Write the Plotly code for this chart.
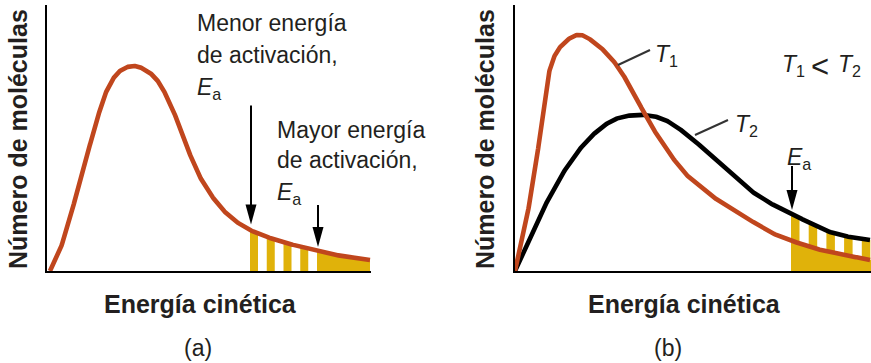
import numpy as np
import plotly.graph_objects as go

# ---------------- data ----------------
# Panel (a): one distribution, two activation energies
a_energy = [3, 13, 26, 36, 46, 56, 66, 76, 88, 100, 110, 120, 130, 140, 153, 170, 186, 203, 223, 243, 263, 283, 303, 323]
a_count = [0, 21, 64, 104, 136, 171, 192, 202, 205, 200, 191, 174, 151, 124, 94, 68, 52, 41, 33, 27, 22, 17, 14, 11]
a_ea_low = 203
a_ea_high = 270

# Panel (b): two temperatures, one activation energy
b_t1_energy = [0, 10, 20, 27, 33, 43, 62, 80, 100, 117, 133, 150, 167, 175, 195, 215, 235, 255, 275, 295, 315, 335, 355]
b_t1_count = [0, 44, 101, 151, 194, 221, 236, 228, 208, 181, 151, 124, 101, 93, 76, 64, 51, 39, 31, 24, 19, 15, 11]
b_t2_energy = [0, 17, 33, 50, 70, 90, 107, 130, 150, 170, 190, 215, 235, 255, 275, 295, 315, 335, 355]
b_t2_count = [0, 38, 71, 101, 128, 146, 154, 156, 151, 138, 121, 98, 81, 68, 58, 48, 39, 34, 31]
b_ea = 276

# ---------------- style ----------------
W, H = 871, 363
ORANGE = "#C0461D"
YELLOW = "#E0B20A"
BLACK = "#000000"
TXT = "#231F20"
FONT = "Liberation Sans, Arial, Helvetica, sans-serif"
FS = 23
FS_TITLE = 25


def smooth(xs, ys, n=24):
    pts = np.column_stack([xs, ys]).astype(float)
    P = np.vstack([pts[0] * 2 - pts[1], pts, pts[-1] * 2 - pts[-2]])
    t = np.linspace(0, 1, n, endpoint=False)[:, None]
    out = []
    for i in range(1, len(P) - 2):
        p0, p1, p2, p3 = P[i - 1], P[i], P[i + 1], P[i + 2]
        seg = 0.5 * ((2 * p1) + (-p0 + p2) * t + (2 * p0 - 5 * p1 + 4 * p2 - p3) * t ** 2
                     + (-p0 + 3 * p1 - 3 * p2 + p3) * t ** 3)
        out.append(seg)
    out.append(pts[-1:])
    arr = np.vstack(out)
    return arr[:, 0], arr[:, 1]


def region(cx, cy, x0, x1):
    m = (cx > x0) & (cx < x1)
    xs = np.concatenate([[x0, x0], cx[m], [x1, x1]])
    ys = np.concatenate([[0, np.interp(x0, cx, cy)], cy[m], [np.interp(x1, cx, cy), 0]])
    return list(xs), list(ys)


def stripes(cx, cy, start, end, period, width):
    X, Y = [], []
    s = start
    while s < end - 0.5:
        xs, ys = region(cx, cy, s, min(s + width, end))
        X += xs + [None]
        Y += ys + [None]
        s += period
    return X, Y


fig = go.Figure()

# ---- panel (a) ----
ax_, ay_ = smooth(a_energy, a_count)
sx, sy = stripes(ax_, ay_, a_ea_low, a_ea_high - 1, (a_ea_high - a_ea_low) / 4, 8)
fig.add_trace(go.Scatter(x=sx, y=sy, fill="toself", fillcolor=YELLOW, mode="none",
                         xaxis="x", yaxis="y", hoverinfo="skip"))
rx, ry = region(ax_, ay_, a_ea_high, a_energy[-1])
fig.add_trace(go.Scatter(x=rx, y=ry, fill="toself", fillcolor=YELLOW, mode="none",
                         xaxis="x", yaxis="y", hoverinfo="skip"))
fig.add_trace(go.Scatter(x=ax_, y=ay_, mode="lines", line=dict(color=ORANGE, width=4.6),
                         xaxis="x", yaxis="y", hoverinfo="skip"))

# ---- panel (b) ----
t1x, t1y = smooth(b_t1_energy, b_t1_count)
t2x, t2y = smooth(b_t2_energy, b_t2_count)
sx, sy = stripes(t2x, t2y, b_ea, b_t2_energy[-1] + 1, 17.7, 8.5)
fig.add_trace(go.Scatter(x=sx, y=sy, fill="toself", fillcolor=YELLOW, mode="none",
                         xaxis="x2", yaxis="y2", hoverinfo="skip"))
rx, ry = region(t1x, t1y, b_ea, b_t1_energy[-1] + 1)
fig.add_trace(go.Scatter(x=rx, y=ry, fill="toself", fillcolor=YELLOW, mode="none",
                         xaxis="x2", yaxis="y2", hoverinfo="skip"))
fig.add_trace(go.Scatter(x=t2x, y=t2y, mode="lines", line=dict(color=BLACK, width=4.6),
                         xaxis="x2", yaxis="y2", hoverinfo="skip"))
fig.add_trace(go.Scatter(x=t1x, y=t1y, mode="lines", line=dict(color=ORANGE, width=4.6),
                         xaxis="x2", yaxis="y2", hoverinfo="skip"))

shapes = []


def arrow(xref, yref, x, cx, cy, length, gap=5):
    tip = float(np.interp(x, cx, cy)) + gap
    head = 20
    shapes.append(dict(type="line", xref=xref, yref=yref, x0=x, x1=x, y0=tip + head - 2,
                       y1=tip + length, line=dict(color=BLACK, width=2)))
    shapes.append(dict(type="path", xref=xref, yref=yref,
                       path=f"M{x - 5.5},{tip + head} L{x + 5.5},{tip + head} L{x},{tip} Z",
                       fillcolor=BLACK, line=dict(width=0)))


arrow("x", "y", a_ea_low + 1, ax_, ay_, 119, gap=6)
arrow("x", "y", a_ea_high + 1, ax_, ay_, 42, gap=4)
arrow("x2", "y2", b_ea + 1, t2x, t2y, 44, gap=4)

# leader lines for T1 / T2 labels
shapes.append(dict(type="line", xref="x2", yref="y2", x0=103, y0=206, x1=135, y1=221,
                   line=dict(color="#333333", width=2)))
shapes.append(dict(type="line", xref="x2", yref="y2", x0=180, y0=136, x1=213, y1=151,
                   line=dict(color="#333333", width=2)))

ann = []


def txt(text, px, baseline, size=FS, color=TXT):
    ann.append(dict(text=text, xref="paper", yref="paper", x=px / W, y=1 - (baseline - size * 0.95) / H,
                    xanchor="left", yanchor="top", showarrow=False,
                    font=dict(family=FONT, size=size, color=color)))


def ctext(text, cx, cy, size=FS, bold=False, angle=0):
    t = f"<b>{text}</b>" if bold else text
    ann.append(dict(text=t, xref="paper", yref="paper", x=cx / W, y=1 - cy / H,
                    xanchor="center", yanchor="middle", showarrow=False, textangle=angle,
                    font=dict(family=FONT, size=size, color=TXT)))


EA = "<i>E</i><sub>a</sub>"
T1 = "<i>T</i><sub>1</sub>"
T2 = "<i>T</i><sub>2</sub>"
txt("Menor energía", 195, 30)
txt("de activación,", 195, 62)
txt(EA, 195, 94)
txt("Mayor energía", 275, 137)
txt("de activación,", 275, 167)
txt(EA, 275, 199)
txt(T1, 653, 61)
txt(T2, 733, 131)
txt(T1, 780, 71)
txt("&lt;", 809, 76, size=31)
txt(T2, 836, 71)
txt(EA, 785, 164)

ctext("Número de moléculas", 18, 139, size=FS_TITLE, bold=True, angle=-90)
ctext("Número de moléculas", 485, 139, size=FS_TITLE, bold=True, angle=-90)
ctext("Energía cinética", 200, 304, size=FS_TITLE, bold=True)
ctext("Energía cinética", 684, 304, size=FS_TITLE, bold=True)
ctext("(a)", 198, 348)
ctext("(b)", 668, 348)

axis_common = dict(showline=True, linecolor=BLACK, linewidth=2, showticklabels=False,
                   ticks="", showgrid=False, zeroline=False, fixedrange=True)
ydom = [1 - 271 / H, 1 - 5 / H]

fig.update_layout(
    width=W, height=H, margin=dict(l=0, r=0, t=0, b=0),
    paper_bgcolor="white", plot_bgcolor="white", showlegend=False,
    xaxis=dict(domain=[47 / W, 371 / W], range=[0, 324], anchor="y", **axis_common),
    yaxis=dict(domain=ydom, range=[0, 266], anchor="x", **axis_common),
    xaxis2=dict(domain=[515 / W, 1.0], range=[0, 356], anchor="y2", **axis_common),
    yaxis2=dict(domain=ydom, range=[0, 266], anchor="x2", **axis_common),
    shapes=shapes, annotations=ann,
)

fig.write_html("out.html", config={"displayModeBar": False},
               post_script="document.body.style.margin='0';document.body.style.overflow='hidden';")
